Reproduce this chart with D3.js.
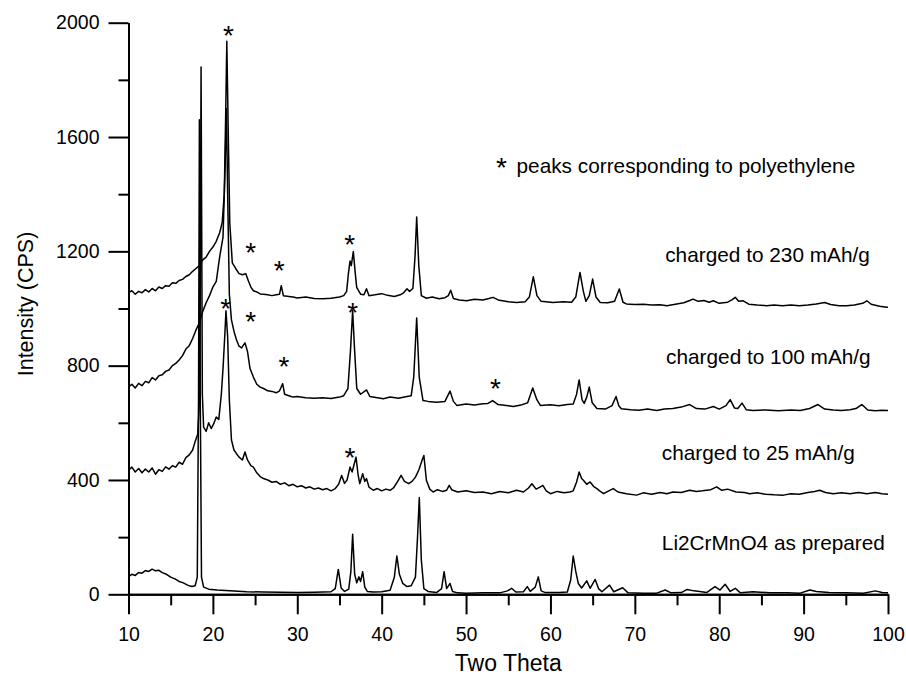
<!doctype html>
<html lang="en">
  <head>
    <meta charset="utf-8">
    <title>XRD patterns</title>
    <style>
      body { margin: 0; background: #fff; }
      text { font-family: Arial, "Liberation Sans", sans-serif; fill: #000; }
    </style>
  </head>
  <body>
    <script src="https://d3js.org/d3.v7.min.js"></script>
    <script>
      // [two theta, counts], one array per sample
      var asPrepared = [[10,62],[10.4,70],[10.8,66],[11.2,76],[11.6,74],[12,83],[12.4,80],[12.8,88],[13.2,82],[13.6,84],[14,76],[14.5,70],[15,60],[15.5,54],[16,45],[16.5,40],[17,32],[17.5,27],[17.9,30],[18.15,60],[18.3,700],[18.4,1660],[18.5,700],[18.65,60],[18.9,25],[19.5,18],[20.5,15],[22,12],[24,9],[26,8],[28,7],[30,6],[32,7],[34,9],[34.5,20],[34.86,87],[35.2,22],[35.6,10],[36.1,18],[36.35,80],[36.56,210],[36.8,70],[37.05,40],[37.3,61],[37.5,45],[37.75,79],[38,25],[38.3,10],[39,8],[40,9],[41,14],[41.5,60],[41.8,134],[42.1,70],[42.5,38],[43,27],[43.5,30],[44,60],[44.25,200],[44.46,339],[44.7,120],[45,20],[45.5,10],[46.5,6],[47.1,20],[47.4,79],[47.7,20],[48.1,38],[48.4,10],[49,5],[50,4],[52,5],[54,5],[54.9,12],[55.4,21],[55.9,8],[56.8,9],[57.26,27],[57.6,10],[58.2,25],[58.56,61],[58.9,12],[59.4,6],[61,6],[62,8],[62.4,50],[62.7,134],[63,80],[63.3,38],[63.7,22],[64.3,47],[64.7,21],[65.3,52],[65.7,20],[66.1,9],[67,32],[67.5,9],[68.56,23],[69.2,5],[71,4],[72.6,4],[73.6,15],[74.3,5],[75.5,6],[76.2,17],[77,12],[77.7,10],[78.5,6],[79.5,27],[80.1,15],[80.7,35],[81.3,10],[81.9,21],[82.5,5],[84,9],[86,5],[88,5],[89.6,4],[90.75,15],[91.5,10],[93,6],[95,5],[97.1,4],[98.5,12],[99.3,6],[100,5]];

      var charged25 = [[10,434],[10.4,445],[10.8,428],[11.2,440],[11.6,425],[12,438],[12.4,428],[12.8,442],[13.2,420],[13.6,436],[14,430],[14.4,446],[14.8,438],[15.2,450],[15.6,445],[16,462],[16.4,455],[16.8,478],[17.2,488],[17.6,505],[17.9,535],[18.2,560],[18.45,700],[18.6,1845],[18.75,700],[18.9,585],[19.2,570],[19.5,600],[19.8,580],[20.1,597],[20.4,620],[20.7,612],[21,700],[21.2,790],[21.4,900],[21.55,992],[21.75,900],[21.95,680],[22.2,540],[22.5,505],[22.8,492],[23.1,480],[23.5,470],[23.8,498],[24.1,470],[24.5,450],[24.8,445],[25.2,425],[25.6,412],[26,405],[26.5,400],[27,392],[27.5,395],[28,385],[28.5,390],[29,380],[29.5,385],[30,376],[30.5,380],[31,372],[31.5,376],[32,368],[32.5,372],[33,366],[33.5,370],[34,362],[34.5,370],[34.9,385],[35.26,416],[35.6,388],[35.9,400],[36.25,445],[36.5,428],[36.96,480],[37.2,420],[37.4,387],[37.75,422],[38,395],[38.2,405],[38.5,375],[39,364],[39.5,370],[40,362],[40.5,368],[41,364],[41.4,372],[41.9,395],[42.3,416],[42.7,395],[43.2,387],[43.6,395],[44,410],[44.4,435],[44.8,470],[45,486],[45.3,399],[45.7,368],[46.1,358],[46.6,366],[47.2,360],[47.7,364],[48,381],[48.3,366],[49,358],[50,362],[51,356],[52,358],[53,352],[54,360],[55,355],[56,364],[56.8,358],[57.4,372],[57.8,387],[58.3,368],[58.7,374],[59.1,381],[59.5,362],[60,352],[60.8,360],[61.6,355],[62.3,358],[62.7,362],[63.1,393],[63.4,428],[63.7,405],[63.9,399],[64.3,385],[64.7,393],[65.1,378],[65.5,370],[66,358],[66.3,352],[66.8,360],[67.45,370],[68,358],[69,352],[70.2,347],[71,355],[72,350],[73,356],[73.8,352],[74.5,358],[75.5,356],[76.5,364],[77.3,360],[78,362],[79,366],[79.7,376],[80.3,364],[81,368],[82,358],[83,356],[83.6,352],[84.5,355],[85.5,350],[86.5,348],[87.6,347],[88.5,352],[89.5,350],[90.5,356],[91.3,360],[91.9,364],[92.6,356],[93.5,352],[94.5,355],[95.5,352],[96.5,356],[97.5,352],[98.5,356],[99.3,352],[100,350]];

      var charged100 = [[10,725],[10.4,735],[10.8,722],[11.2,738],[11.6,730],[12,745],[12.4,740],[12.8,758],[13.2,750],[13.6,765],[14,768],[14.4,780],[14.8,785],[15.2,800],[15.6,808],[16,820],[16.4,835],[16.8,858],[17.2,870],[17.6,895],[18,925],[18.4,950],[18.8,990],[19.2,1020],[19.6,1045],[20,1075],[20.4,1095],[20.8,1180],[21.2,1250],[21.45,1500],[21.6,1700],[21.75,1400],[21.95,1050],[22.2,960],[22.5,920],[22.8,890],[23.1,868],[23.4,862],[23.8,880],[24.1,850],[24.4,790],[24.8,760],[25.2,735],[25.6,725],[26,720],[26.5,712],[27,710],[27.5,705],[27.9,712],[28.27,737],[28.5,700],[29,695],[29.5,690],[30,692],[31,688],[32,686],[33,688],[34,685],[35,690],[35.5,695],[36,720],[36.3,850],[36.56,992],[36.8,850],[37.05,720],[37.5,700],[38.2,715],[38.6,692],[39.5,688],[40.2,684],[41,690],[42,686],[43,692],[43.5,695],[43.8,760],[44.15,967],[44.45,760],[44.9,678],[45.5,675],[46.5,672],[47.5,675],[48.1,711],[48.5,675],[48.9,661],[50,666],[51,662],[52,667],[52.6,668],[53.15,678],[53.8,664],[55,660],[55.6,657],[56.5,662],[57.3,670],[57.9,722],[58.4,680],[58.8,661],[60,663],[61,660],[62,664],[62.7,666],[63.1,700],[63.4,750],[63.75,680],[64,668],[64.3,690],[64.6,725],[64.95,670],[65.5,650],[66.5,648],[67.3,660],[67.77,692],[68.1,660],[68.4,649],[69.5,646],[70.5,644],[71.5,648],[72.6,643],[73.5,648],[74.5,650],[75.5,655],[76.5,664],[77.3,650],[78.3,648],[79.3,657],[80,648],[80.8,660],[81.3,681],[81.8,652],[82.2,650],[82.7,669],[83.2,646],[84,643],[85.5,645],[87,642],[88.5,645],[89.6,643],[90.7,650],[91.7,664],[92.5,648],[93.5,645],[94.5,643],[95.5,646],[96.2,650],[96.9,664],[97.6,645],[98.5,642],[99.3,644],[100,643]];

      var charged230 = [[10,1056],[10.4,1062],[10.8,1050],[11.2,1060],[11.6,1055],[12,1066],[12.4,1058],[12.8,1070],[13.2,1062],[13.6,1075],[14,1070],[14.4,1080],[14.8,1078],[15.2,1090],[15.6,1088],[16,1098],[16.4,1102],[16.8,1112],[17.2,1118],[17.6,1130],[18,1140],[18.4,1150],[18.8,1170],[19.2,1180],[19.6,1200],[20,1215],[20.4,1235],[20.8,1265],[21.1,1300],[21.35,1400],[21.5,1650],[21.65,1935],[21.8,1650],[22,1300],[22.3,1160],[22.7,1140],[23.1,1122],[23.5,1118],[23.9,1122],[24.2,1097],[24.5,1075],[24.8,1062],[25.2,1058],[25.6,1051],[26,1050],[26.5,1048],[27,1045],[27.5,1048],[27.9,1050],[28.1,1080],[28.35,1045],[29,1042],[29.5,1040],[30,1037],[31,1040],[32,1035],[33,1034],[34,1036],[35,1040],[35.5,1045],[35.85,1060],[36.05,1120],[36.25,1166],[36.4,1150],[36.64,1199],[36.85,1130],[37.04,1074],[37.5,1050],[37.9,1048],[38.2,1069],[38.5,1045],[39.2,1048],[40,1052],[40.7,1046],[41.5,1042],[42.2,1048],[42.6,1055],[43,1069],[43.3,1060],[43.7,1070],[43.95,1180],[44.15,1320],[44.4,1150],[44.7,1045],[45.3,1036],[46,1040],[46.8,1034],[47.5,1038],[47.9,1045],[48.18,1064],[48.5,1035],[49.2,1030],[50.08,1027],[51,1032],[52,1030],[52.7,1035],[53.2,1039],[53.8,1030],[55,1024],[56,1021],[57,1024],[57.5,1040],[57.97,1111],[58.4,1045],[58.9,1025],[60.3,1021],[61.5,1024],[62.5,1022],[63,1040],[63.5,1126],[63.9,1060],[64.2,1025],[64.6,1045],[65,1103],[65.4,1040],[65.9,1021],[66.8,1020],[67.6,1025],[68.16,1068],[68.6,1022],[69,1016],[70,1014],[71,1015],[72,1012],[73,1013],[73.8,1010],[74.8,1015],[75.8,1020],[76.5,1028],[76.9,1033],[77.5,1025],[78.2,1028],[78.8,1022],[79.3,1027],[80,1018],[81,1022],[81.5,1030],[81.9,1039],[82.3,1025],[82.85,1027],[83.5,1015],[84.5,1012],[85.6,1010],[86.5,1012],[87.5,1010],[88.5,1012],[89.5,1010],[90.5,1012],[91.5,1016],[92.5,1021],[93.2,1014],[94.2,1010],[95.1,1010],[96,1012],[97,1018],[97.5,1027],[98,1015],[99,1008],[99.85,1004],[100,1005]];

      // polyethylene peak markers, in data coordinates
      var peStars = [[21.83,1979],[24.48,1219],[27.87,1155],[36.2,1248],[21.52,1021],[24.48,978],[28.43,820],[36.56,1010],[53.47,742],[36.25,501]];

      var sampleLabels = ['charged to 230 mAh/g', 'charged to 100 mAh/g', 'charged to 25 mAh/g', 'Li2CrMnO4 as prepared'];
      var labelAt = [[73.6,1162],[73.7,807],[73.2,469],[73.2,155]];

      var xMajor = [10, 20, 30, 40, 50, 60, 70, 80, 90, 100];
      var xMinor = [15, 25, 35, 45, 55, 65, 75, 85, 95];
      var yMajor = [0, 400, 800, 1200, 1600, 2000];
      var yMinor = [200, 600, 1000, 1400, 1800];

      var W = 906, H = 678;
      var margin = { top: 22.7, right: 18, bottom: 83.7, left: 128.5 };
      var width = W - margin.left - margin.right;
      var height = H - margin.top - margin.bottom;

      var x = d3.scaleLinear().domain([10, 100]).range([0, width]);
      var y = d3.scaleLinear().domain([0, 2000]).range([height, 0]);

      var svg = d3.select('body').append('svg')
          .attr('width', W)
          .attr('height', H);

      var g = svg.append('g')
          .attr('transform', 'translate(' + margin.left + ',' + margin.top + ')');

      var line = d3.line()
          .x(function(d) { return x(d[0]); })
          .y(function(d) { return y(d[1]); });

      g.selectAll('.scan')
        .data([asPrepared, charged25, charged100, charged230])
        .enter().append('path')
          .attr('class', 'scan')
          .attr('d', line)
          .attr('fill', 'none')
          .attr('stroke', '#000')
          .attr('stroke-width', 1.5)
          .attr('stroke-linejoin', 'round');

      // axes: major ticks with labels, minor ticks without
      function styleAxis(sel) {
        sel.select('.domain').attr('stroke-width', 2);
        sel.selectAll('.tick line').attr('stroke-width', 2);
        sel.selectAll('.tick text').style('font-size', '19.5px').attr('fill', '#000');
      }

      g.append('g')
          .attr('transform', 'translate(0,' + height + ')')
          .call(d3.axisBottom(x).tickValues(xMajor).tickSize(20).tickPadding(13).tickSizeOuter(0).tickFormat(d3.format('d')))
          .call(styleAxis);
      g.append('g')
          .attr('transform', 'translate(0,' + height + ')')
          .call(d3.axisBottom(x).tickValues(xMinor).tickSize(11).tickSizeOuter(0).tickFormat(''))
          .call(styleAxis);

      g.append('g')
          .call(d3.axisLeft(y).tickValues(yMajor).tickSize(20).tickPadding(9).tickSizeOuter(0).tickFormat(d3.format('d')))
          .call(styleAxis);
      g.append('g')
          .call(d3.axisLeft(y).tickValues(yMinor).tickSize(10).tickSizeOuter(0).tickFormat(''))
          .call(styleAxis);

      // polyethylene markers
      g.selectAll('.star')
        .data(peStars)
        .enter().append('text')
          .attr('class', 'star')
          .attr('x', function(d) { return x(d[0]); })
          .attr('y', function(d) { return y(d[1]) + 16; })
          .attr('text-anchor', 'middle')
          .style('font-size', '28px')
          .text('*');

      // sample labels
      g.selectAll('.label')
        .data(sampleLabels)
        .enter().append('text')
          .attr('class', 'label')
          .attr('x', function(d, i) { return x(labelAt[i][0]); })
          .attr('y', function(d, i) { return y(labelAt[i][1]); })
          .style('font-size', '20.8px')
          .text(function(d) { return d; });

      // legend note
      var note = g.append('g').attr('transform', 'translate(' + x(54.2) + ',' + y(1495) + ')');
      note.append('text')
          .attr('x', 0)
          .attr('y', 16 - 6)
          .attr('text-anchor', 'middle')
          .style('font-size', '28px')
          .text('*');
      note.append('text')
          .attr('x', 15)
          .attr('y', 6)
          .style('font-size', '20.8px')
          .text('peaks corresponding to polyethylene');

      // axis titles
      svg.append('text')
          .attr('x', margin.left + width / 2)
          .attr('y', 671)
          .attr('text-anchor', 'middle')
          .style('font-size', '23px')
          .text('Two Theta');

      svg.append('text')
          .attr('transform', 'translate(33,' + 304 + ') rotate(-90)')
          .attr('text-anchor', 'middle')
          .style('font-size', '21.5px')
          .text('Intensity (CPS)');
    </script>
  </body>
</html>
